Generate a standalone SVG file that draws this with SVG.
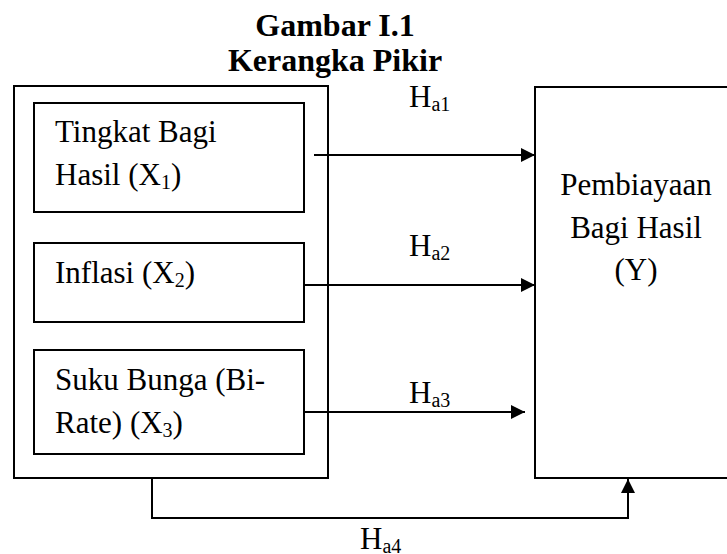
<svg xmlns="http://www.w3.org/2000/svg" width="727" height="554" viewBox="0 0 727 554">
<defs>
<style>
.box{fill:#fff;stroke:#000;stroke-width:2}
.t{font-family:"Liberation Serif","Times New Roman",serif;font-size:31px;fill:#000}
.b{font-weight:bold;font-size:32px}
.s{font-size:20px}
.ln{fill:none;stroke:#000;stroke-width:2}
</style>
<marker id="ah" viewBox="0 0 10 10" refX="10" refY="5" markerWidth="7.5" markerHeight="7" markerUnits="strokeWidth" orient="auto">
<path d="M0,0 L10,5 L0,10 Z" fill="#000"/>
</marker>
</defs>
<rect width="727" height="554" fill="#fff"/>
<g id="title">
<text class="t b" x="335" y="36" text-anchor="middle">Gambar I.1</text>
<text class="t b" x="335" y="71" text-anchor="middle">Kerangka Pikir</text>
</g>
<g id="outer">
<rect class="box" x="14" y="86" width="314" height="392"/>
</g>
<g id="x1">
<rect class="box" x="34" y="103" width="270" height="109"/>
<text class="t" x="55" y="142">Tingkat Bagi</text>
<text class="t" x="55" y="185">Hasil (X<tspan class="s" dy="4">1</tspan><tspan dy="-4">)</tspan></text>
</g>
<g id="x2">
<rect class="box" x="34" y="243" width="270" height="79"/>
<text class="t" x="55" y="283">Inflasi (X<tspan class="s" dy="4">2</tspan><tspan dy="-4">)</tspan></text>
</g>
<g id="x3">
<rect class="box" x="34" y="350" width="270" height="104"/>
<text class="t" x="55" y="390">Suku Bunga (Bi-</text>
<text class="t" x="55" y="433">Rate) (X<tspan class="s" dy="4">3</tspan><tspan dy="-4">)</tspan></text>
</g>
<g id="y">
<rect class="box" x="535" y="87" width="210" height="391"/>
<text class="t" x="636" y="195" text-anchor="middle">Pembiayaan</text>
<text class="t" x="636" y="238" text-anchor="middle">Bagi Hasil</text>
<text class="t" x="636" y="280" text-anchor="middle">(Y)</text>
</g>
<g id="connectors">
<line class="ln" x1="314" y1="155" x2="535" y2="155" marker-end="url(#ah)"/>
<line class="ln" x1="304" y1="285" x2="535" y2="285" marker-end="url(#ah)"/>
<line class="ln" x1="304" y1="412" x2="525" y2="412" marker-end="url(#ah)"/>
<polyline class="ln" points="152,478 152,518 628,518 628,479" marker-end="url(#ah)"/>
<text class="t" x="409" y="107">H<tspan class="s" dy="4">a1</tspan></text>
<text class="t" x="409" y="256">H<tspan class="s" dy="4">a2</tspan></text>
<text class="t" x="409" y="403">H<tspan class="s" dy="4">a3</tspan></text>
<text class="t" x="360" y="549">H<tspan class="s" dy="4">a4</tspan></text>
</g>
</svg>
